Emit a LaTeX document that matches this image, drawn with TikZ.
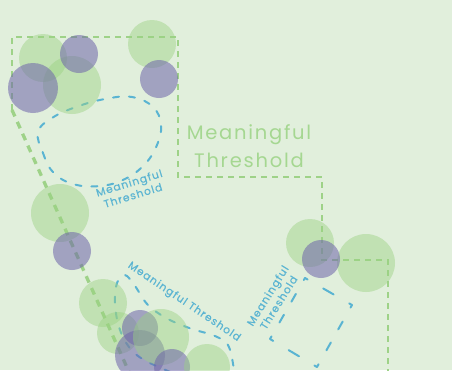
\documentclass[tikz,border=0pt]{standalone}
\usepackage{fontspec}
\setmainfont{Poppins}
\newfontfamily\labfont[LetterSpace=10,FakeBold=0.5]{Poppins}
\newfontfamily\bigfont[LetterSpace=9]{Poppins}
\usetikzlibrary{calc}
\definecolor{bgc}{RGB}{225,239,220}
\definecolor{gfill}{RGB}{155,210,130}
\definecolor{pfill}{RGB}{110,100,170}
\definecolor{gline}{RGB}{158,210,136}
\definecolor{bline}{RGB}{90,180,210}
\definecolor{gtext}{RGB}{165,215,145}
\begin{document}
\begin{tikzpicture}[x=1pt,y=-1pt,
  gc/.style={circle,fill=gfill,fill opacity=0.45,draw=none,inner sep=0pt,minimum size=#1},
  pc/.style={circle,fill=pfill,fill opacity=0.55,draw=none,inner sep=0pt,minimum size=#1},
  gpath/.style={draw=gline,line width=2.8pt,dash pattern=on 6pt off 5pt},
  gdiag/.style={draw=gline,line width=3.3pt,dash pattern=on 7pt off 6pt},
  bpath/.style={draw=bline,line width=2pt,line cap=round,dash pattern=on 6pt off 10pt},
  bside/.style={draw=bline,line width=2pt,line cap=round},
  smalllab/.style={text=bline,font=\labfont\fontsize{10.6}{13}\selectfont,align=center,inner sep=0pt},
  biglab/.style={text=gtext,font=\bigfont\fontsize{19.5}{28}\selectfont,align=center,inner sep=0pt}]
\useasboundingbox (0,0) rectangle (452,370);
\fill[bgc] (0,0) rectangle (452,370);

% green dashed boundary
\coordinate (p0) at (12,110);
\coordinate (p1) at (12,37);
\coordinate (p2) at (178,37);
\coordinate (p3) at (178,177);
\coordinate (p4) at (322,177);
\coordinate (p5) at (322,260);
\coordinate (p6) at (388,260);
\coordinate (p7) at (388,372);
\coordinate (q0) at (129,372);
\draw[gpath] (p0) -- (p1) -- (p2) -- (p3) -- (p4) -- (p5) -- (p6) -- (p7);
\draw[gdiag] (p0) -- (q0);

% blue dashed shapes
\draw[bpath] plot[smooth cycle, tension=0.7] coordinates {(38,132) (43,153) (53,172) (73,184) (100,186) (125,179) (145,164) (157,145) (161,125) (153,107) (132,97) (105,99) (76,107) (52,118)};
\draw[bpath] plot[smooth, tension=0.6] coordinates {(185,378) (146,361) (129,347) (119,327) (115,303) (117,283) (125,275) (135,286) (148,305) (168,319) (192,329) (215,336) (229,347) (235,378)};

\coordinate (c1) at (305,278);
\coordinate (c2) at (352,305);
\coordinate (c3) at (317,367);
\coordinate (c4) at (270,339);
\draw[bside,dash pattern=on 3pt off 18pt on 12pt off 18pt on 3pt off 50pt] (c1) -- (c2);
\draw[bside,dash pattern=on 3pt off 16pt on 9pt off 15pt on 9pt off 16pt on 3pt off 50pt] (c2) -- (c3);
\draw[bside,dash pattern=on 3pt off 18pt on 12pt off 18pt on 3pt off 50pt] (c3) -- (c4);
\draw[bside,dash pattern=on 3pt off 16pt on 9pt off 15pt on 9pt off 16pt on 3pt off 50pt] (c4) -- (c1);

% circles
\node[gc=48pt] (gA) at (43,58) {};
\node[gc=58pt] (gD) at (72,85) {};
\node[pc=38pt] (pB) at (79,54) {};
\node[pc=50pt] (pC) at (33,88) {};
\node[gc=48pt] (gE) at (152,44) {};
\node[pc=38pt] (pF) at (159,79) {};

\node[gc=58pt] (gG) at (60,213) {};
\node[pc=38pt] (pH) at (72,251) {};

\node[gc=48pt] (gR1) at (310,243) {};
\node[gc=58pt] (gR2) at (366,263) {};
\node[pc=38pt] (pR) at (321,259) {};

\node[gc=48pt] (gI) at (103,303) {};
\node[gc=42pt] (gJ) at (118,333) {};
\node[pc=36pt] (pK) at (140,328) {};
\node[pc=50pt] (pM) at (140,355) {};
\node[gc=56pt] (gL) at (161,337) {};
\node[pc=36pt] (pO) at (172,367) {};
\node[gc=46pt] (gN) at (207,367) {};

% labels
\node[biglab] (big) at (249,146) {Meaningful\\Threshold};
\node[smalllab,rotate=17] (lab1) at (131,189) {Meaningful\\Threshold};
\node[smalllab,rotate=-34] (lab2) at (184,302) {Meaningful Threshold};
\node[smalllab,rotate=58] (lab3) at (273,299) {Meaningful\\Threshold};
\end{tikzpicture}
\end{document}
